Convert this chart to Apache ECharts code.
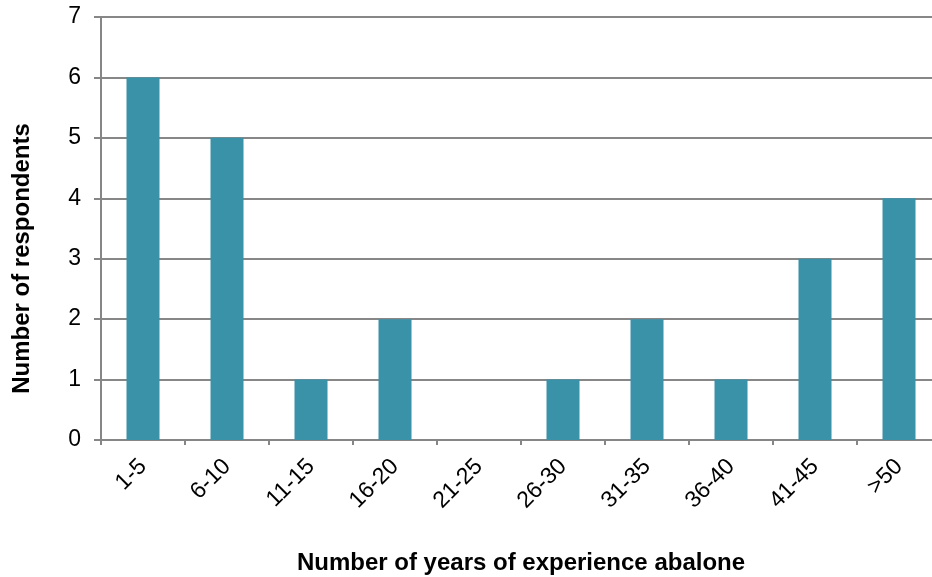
<!DOCTYPE html>
<html>
<head>
<meta charset="utf-8">
<script src="https://cdn.jsdelivr.net/npm/echarts@6/dist/echarts.min.js"></script>
<style>html,body{margin:0;padding:0;background:#fff}#c{width:932px;height:577px}</style>
</head>
<body>
<div id="c"></div>
<script>
const categories = ['1-5','6-10','11-15','16-20','21-25','26-30','31-35','36-40','41-45','>50'];
const respondents = [6,5,1,2,0,1,2,1,3,4];
const yTicks = {min:0, max:7, interval:1};
const xTitle = 'Number of years of experience abalone';
const yTitle = 'Number of respondents';

const FONT = 'Liberation Sans, Arial, sans-serif';
const chart = echarts.init(document.getElementById('c'), null, {renderer:'canvas'});
chart.setOption({
  animation:false,
  grid:{left:101, top:17, width:840, height:423, containLabel:false, outerBoundsMode:'none'},
  xAxis:{
    type:'category', data:categories,
    name:xTitle, nameLocation:'middle', nameGap:111,
    nameTextStyle:{fontFamily:FONT, fontWeight:'bold', fontSize:24, color:'#000'},
    axisLine:{lineStyle:{color:'#868686', width:2}},
    axisTick:{show:true, alignWithLabel:false, length:5, lineStyle:{color:'#868686', width:2}},
    axisLabel:{rotate:45, margin:23, fontFamily:FONT, fontSize:23, color:'#000', interval:0}
  },
  yAxis:{
    type:'value', min:yTicks.min, max:yTicks.max, interval:yTicks.interval,
    name:yTitle, nameLocation:'middle', nameGap:67,
    nameTextStyle:{fontFamily:FONT, fontWeight:'bold', fontSize:24, color:'#000', padding:[0,60,0,0]},
    axisLine:{show:true, lineStyle:{color:'#868686', width:2}},
    axisTick:{show:true, length:7, lineStyle:{color:'#868686', width:2}},
    axisLabel:{margin:20, fontFamily:FONT, fontSize:23, color:'#000'},
    splitLine:{show:true, lineStyle:{color:'#878787', width:2}}
  },
  series:[{
    type:'bar', data:respondents, barWidth:33,
    itemStyle:{color:'#3A92A8'}
  }]
});
</script>
</body>
</html>
